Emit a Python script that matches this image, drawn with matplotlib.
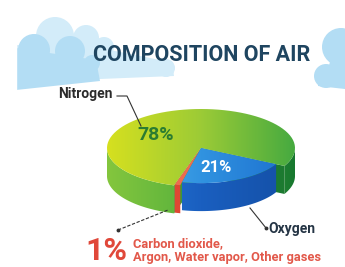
import numpy as np
import matplotlib
matplotlib.use("Agg")
import matplotlib.pyplot as plt
from matplotlib.patches import Polygon, Circle, Rectangle
from matplotlib.colors import LinearSegmentedColormap

# data
labels = ["Carbon dioxide, Argon, Water vapor, Other gases", "Oxygen", "Nitrogen"]
values = [1, 21, 78]
pct_text = ["1%", "21%", "78%"]

W, H = 345, 267
CX, CY, A, B, DEPTH = 201, 148, 94, 39, 28
START = -106.6

fig = plt.figure(figsize=(W / 100, H / 100), dpi=100)
ax = fig.add_axes([0, 0, 1, 1])
ax.set_facecolor("white")


def arc(t1, t2, scale=1.0, n=80):
    t = np.radians(np.linspace(t1, t2, n))
    return np.column_stack([CX + A * scale * np.cos(t), CY - B * scale * np.sin(t)])


def grad_fill(verts, colors, z, x0=CX - A, x1=CX + A):
    poly = Polygon(verts, closed=True, facecolor="none", edgecolor="none")
    ax.add_patch(poly)
    cmap = LinearSegmentedColormap.from_list("g", colors)
    ys = verts[:, 1]
    im = ax.imshow(np.linspace(0, 1, 256).reshape(1, -1), cmap=cmap,
                   extent=[x0, x1, ys.max() + 1, ys.min() - 1],
                   aspect="auto", zorder=z, interpolation="bilinear")
    im.set_clip_path(poly)


def front_parts(t1, t2):
    parts = []
    for k in range(-1, 3):
        lo, hi = -180 + 360 * k, 360 * k
        a, b = max(t1, lo), min(t2, hi)
        if b > a:
            parts.append((a, b))
    return parts


def side(t1, t2, scale, colors, z):
    for a, b in front_parts(t1, t2):
        top = arc(a, b, scale)
        bot = top[::-1] + [0, DEPTH]
        grad_fill(np.vstack([top, bot]), colors, z)


def radial(t, scale, color, z):
    e = arc(t, t, scale, 2)[0]
    pts = [(CX, CY), e, e + [0, DEPTH], (CX, CY + DEPTH)]
    ax.add_patch(Polygon(pts, closed=True, facecolor=color, edgecolor="none", zorder=z))


def blob(circles, polys, color, z):
    for x, y, r in circles:
        ax.add_patch(Circle((x, y), r, color=color, zorder=z, lw=0))
    for p in polys:
        ax.add_patch(Polygon(p, closed=True, color=color, zorder=z, lw=0))


# clouds
pale = "#d3ecf9"
cloud = "#b3ddf4"
blob([(55, 36, 19), (86, 38, 13), (104, 47, 10), (166, 68, 9)],
     [[(16, 45), (110, 50), (160, 60), (172, 62), (174, 76), (100, 79), (16, 82)]],
     pale, 0)
blob([(34, 50, 16), (70, 51, 15), (92, 63, 8)],
     [[(16, 48), (96, 60), (100, 81), (16, 90)]],
     cloud, 1)
ax.add_patch(Rectangle((0, 0), 16, 100, color="white", zorder=1.1))
blob([(341, 47, 19), (350, 68, 21), (326, 76, 12)],
     [[(318, 70), (345, 60), (345, 89), (318, 86)]], cloud, 1)

# angles
fr = np.array(values) / sum(values) * 360
edges = START + np.concatenate([[0], np.cumsum(fr)])
(r1, r2), (o1, o2), (n1, n2) = zip(edges[:-1], edges[1:])

# nitrogen
side(n1, n2, 1.0, ["#84c63e", "#55b03c", "#17782f"], 2)
radial(n1, 1.0, "#1c7a30", 2.5)
radial(n2, 1.0, "#3f9a34", 2.5)
grad_fill(np.vstack([[CX, CY], arc(n1, n2)]), ["#d6e01f", "#9ccb36", "#46aa40"], 3)

# other gases
side(r1, r2, 0.98, ["#e8503a", "#d23a28"], 4)
grad_fill(np.vstack([[CX, CY], arc(r1, r2, 0.98)]), ["#f2785a", "#e85a40"], 4.5)

# oxygen
side(o1, o2, 0.9, ["#2a7fdb", "#1a5fc0", "#144fa5"], 5)
grad_fill(np.vstack([[CX, CY], arc(o1, o2, 0.9)]), ["#5ab8ee", "#3193e0", "#1c6fcf"], 6)

font = "Roboto"
ax.text(202, 55, "COMPOSITION OF AIR", ha="center", va="center", fontsize=15.5,
        fontweight="bold", color="#1f4560", family=font, zorder=10)
ax.text(156, 135, pct_text[2], ha="center", va="center", fontsize=14,
        fontweight="bold", color="#2b7c31", family=font, zorder=10)
ax.text(216, 167, pct_text[1], ha="center", va="center", fontsize=12,
        fontweight="bold", color="white", family=font, zorder=10)

ax.text(58, 94, labels[2], ha="left", va="center", fontsize=10, fontweight="bold",
        color="#2b2b2b", family=font, zorder=10)
ax.plot([117, 127, 141], [96, 96, 126], color="#333333", lw=0.8, zorder=10)

ax.text(268, 229, labels[1], ha="left", va="center", fontsize=10, fontweight="bold",
        color="#253545", family=font, zorder=10)
ax.plot([250, 266], [208, 228], color="#333333", lw=0.8, zorder=10)
ax.plot([266], [228], "o", ms=1.8, color="#333333", zorder=10)

ax.text(106, 251, pct_text[0], ha="center", va="center", fontsize=23,
        fontweight="bold", color="#e0483a", family=font, zorder=10)
ax.text(133, 244, "Carbon dioxide,", ha="left", va="center", fontsize=9.3,
        fontweight="bold", color="#e2584a", family=font, zorder=10)
ax.text(133, 257, "Argon, Water vapor, Other gases", ha="left", va="center",
        fontsize=9.3, fontweight="bold", color="#e2584a", family=font, zorder=10)
ax.plot([118, 168], [230, 210], color="#333333", lw=0.8, ls=(0, (3, 1.5)), zorder=10)
ax.plot([118], [230], "o", ms=1.8, color="#333333", zorder=10)

ax.set_xlim(0, W)
ax.set_ylim(H, 0)
ax.axis("off")
fig.savefig("out.png", dpi=100, facecolor="white")
